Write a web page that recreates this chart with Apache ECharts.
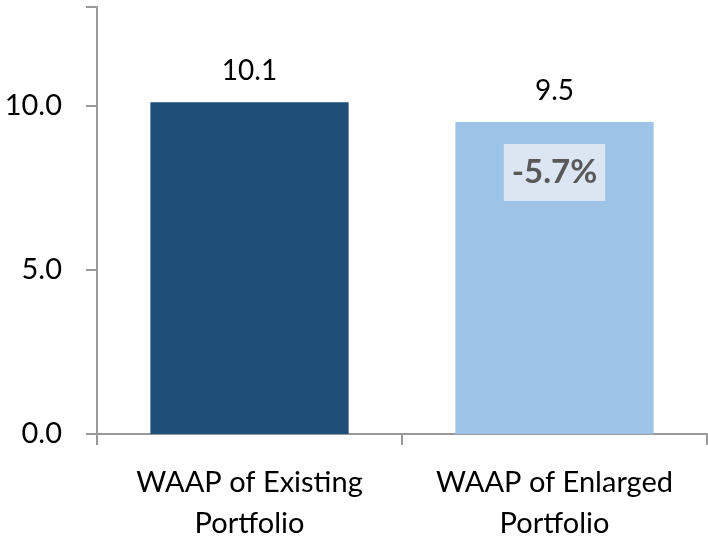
<!DOCTYPE html>
<html>
<head>
<meta charset="utf-8">
<script src="https://cdn.jsdelivr.net/npm/echarts@6/dist/echarts.min.js"></script>
<style>
  html, body { margin: 0; padding: 0; background: #fff; }
  #chart { width: 708px; height: 544px; }
</style>
</head>
<body>
<div id="chart"></div>
<script>
const categories = ['WAAP of Existing\nPortfolio', 'WAAP of Enlarged\nPortfolio']
const values = [10.1, 9.5]
const barColors = ['#1f4e79', '#9dc3e6']
const changeLabels = [null, '-5.7%']

const font = 'Lato, "Noto Sans", sans-serif'

let chart = echarts.init(document.getElementById('chart'))

const option = {
  animation: false,
  grid: { left: 97, right: 1, top: 7, bottom: 108 },
  xAxis: {
    type: 'category',
    data: categories,
    axisLine: { lineStyle: { color: '#999', width: 2 } },
    axisTick: { show: true, length: 11, lineStyle: { color: '#999', width: 2 } },
    axisLabel: {
      color: '#000', fontSize: 29, fontFamily: font, lineHeight: 41, margin: 28,
      interval: 0, hideOverlap: false
    }
  },
  yAxis: {
    type: 'value',
    min: 0,
    max: 13,
    interval: 5,
    splitLine: { show: false },
    axisLine: { show: true, lineStyle: { color: '#999', width: 2 } },
    axisTick: { show: true, length: 11, lineStyle: { color: '#999', width: 2 } },
    axisLabel: {
      color: '#000', fontSize: 29, fontFamily: font, margin: 35,
      formatter: v => (v % 5 === 0 ? v.toFixed(1) : '')
    }
  },
  series: [
    {
      type: 'bar',
      barWidth: '65%',
      data: values.map((v, i) => ({ value: v, itemStyle: { color: barColors[i] } })),
      label: {
        show: true,
        position: 'top',
        distance: 17,
        color: '#000',
        fontSize: 28,
        fontFamily: font,
        formatter: p => p.value.toFixed(1)
      }
    },
    {
      type: 'bar',
      barWidth: '65%',
      barGap: '-100%',
      silent: true,
      itemStyle: { color: 'transparent' },
      data: values.map((v, i) => (changeLabels[i] ? v : null)),
      label: {
        show: true,
        position: 'insideTop',
        distance: 22,
        color: '#595959',
        fontSize: 33,
        lineHeight: 35,
        fontWeight: 'bold',
        fontFamily: font,
        backgroundColor: '#dce6f2',
        padding: [11, 8, 11, 8],
        formatter: p => changeLabels[p.dataIndex] || ''
      }
    }
  ]
}

chart.setOption(option)
</script>
</body>
</html>
